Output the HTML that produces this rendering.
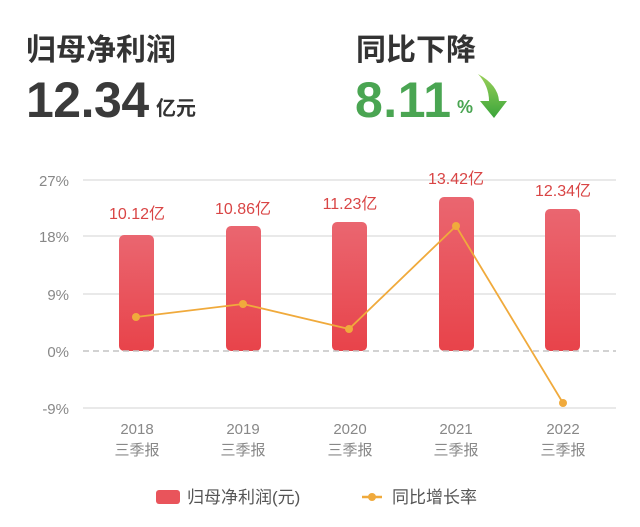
<!DOCTYPE html>
<html><head><meta charset="utf-8"><style>
body{margin:0;background:#fff;width:640px;height:527px;overflow:hidden;font-family:"Liberation Sans","Noto Sans CJK SC",sans-serif}
</style></head><body>
<svg width="640" height="527" xmlns="http://www.w3.org/2000/svg" style="position:absolute;left:0;top:0">
<defs>
<linearGradient id="g" x1="0" y1="0" x2="0" y2="1"><stop offset="0" stop-color="#ea6670"/><stop offset="1" stop-color="#e8434a"/></linearGradient>
<linearGradient id="ag" x1="0" y1="0" x2="0" y2="1"><stop offset="0" stop-color="#9ad05a"/><stop offset="1" stop-color="#3aa53a"/></linearGradient>
</defs>
<g font-family="Noto Sans CJK SC, sans-serif" font-weight="bold">
<text x="26" y="60" font-size="30" fill="#333">归母净利润</text>
<text x="26" y="117" font-size="50" fill="#3a3a3a" font-family="Liberation Sans, sans-serif" letter-spacing="-0.5">12.34</text>
<text x="156" y="115" font-size="20" fill="#333">亿元</text>
<text x="356" y="60" font-size="30" fill="#333">同比下降</text>
<text x="355" y="117" font-size="50" fill="#4aa552" font-family="Liberation Sans, sans-serif" letter-spacing="0.5">8.11</text>
<text x="457" y="113" font-size="18" fill="#4aa552" font-family="Liberation Sans, sans-serif">%</text>
</g>
<path d="M478 74 Q498 85 499 101 L507 101 L494 118 L480 101 L489 101 Q489 86 478 74Z" fill="url(#ag)"/>
<g stroke="#e2e2e2" stroke-width="1.5">
<line x1="83" y1="180" x2="616" y2="180"/><line x1="83" y1="236" x2="616" y2="236"/><line x1="83" y1="294" x2="616" y2="294"/><line x1="83" y1="408" x2="616" y2="408"/>
</g>
<g font-size="15" fill="#888" text-anchor="end" font-family="Liberation Sans, sans-serif">
<text x="69" y="186">27%</text><text x="69" y="242">18%</text><text x="69" y="300">9%</text><text x="69" y="357">0%</text><text x="69" y="414">-9%</text>
</g>
<g fill="url(#g)">
<rect x="119" y="235" width="35" height="116" rx="5"/><rect x="226" y="226" width="35" height="125" rx="5"/><rect x="332" y="222" width="35" height="129" rx="5"/><rect x="439" y="197" width="35" height="154" rx="5"/><rect x="545" y="209" width="35" height="142" rx="5"/>
</g>
<line x1="83" y1="351" x2="616" y2="351" stroke="#c4c4c4" stroke-width="1.5" stroke-dasharray="6,4"/>
<g font-size="16" fill="#d94545" text-anchor="middle">
<text x="137" y="219">10.12亿</text><text x="243" y="214">10.86亿</text><text x="350" y="209">11.23亿</text><text x="456" y="184">13.42亿</text><text x="563" y="196">12.34亿</text>
</g>
<polyline points="136,317 243,304 349,329 456,226 563,403" fill="none" stroke="#f0aa3c" stroke-width="1.8"/>
<g fill="#f0aa3c"><circle cx="136" cy="317" r="4"/><circle cx="243" cy="304" r="4"/><circle cx="349" cy="329" r="4"/><circle cx="456" cy="226" r="4"/><circle cx="563" cy="403" r="4"/></g>
<g font-size="15" fill="#888" text-anchor="middle">
<text x="137" y="434">2018</text><text x="137" y="455">三季报</text>
<text x="243" y="434">2019</text><text x="243" y="455">三季报</text>
<text x="350" y="434">2020</text><text x="350" y="455">三季报</text>
<text x="456" y="434">2021</text><text x="456" y="455">三季报</text>
<text x="563" y="434">2022</text><text x="563" y="455">三季报</text>
</g>
<rect x="156" y="490" width="24" height="14" rx="3" fill="#e9545b"/>
<text x="187" y="503" font-size="17" fill="#555">归母净利润(元)</text>
<line x1="362" y1="497" x2="382" y2="497" stroke="#f0aa3c" stroke-width="2.5"/><circle cx="372" cy="497" r="4" fill="#f0aa3c"/>
<text x="392" y="503" font-size="17" fill="#555">同比增长率</text>
</svg>
</body></html>
